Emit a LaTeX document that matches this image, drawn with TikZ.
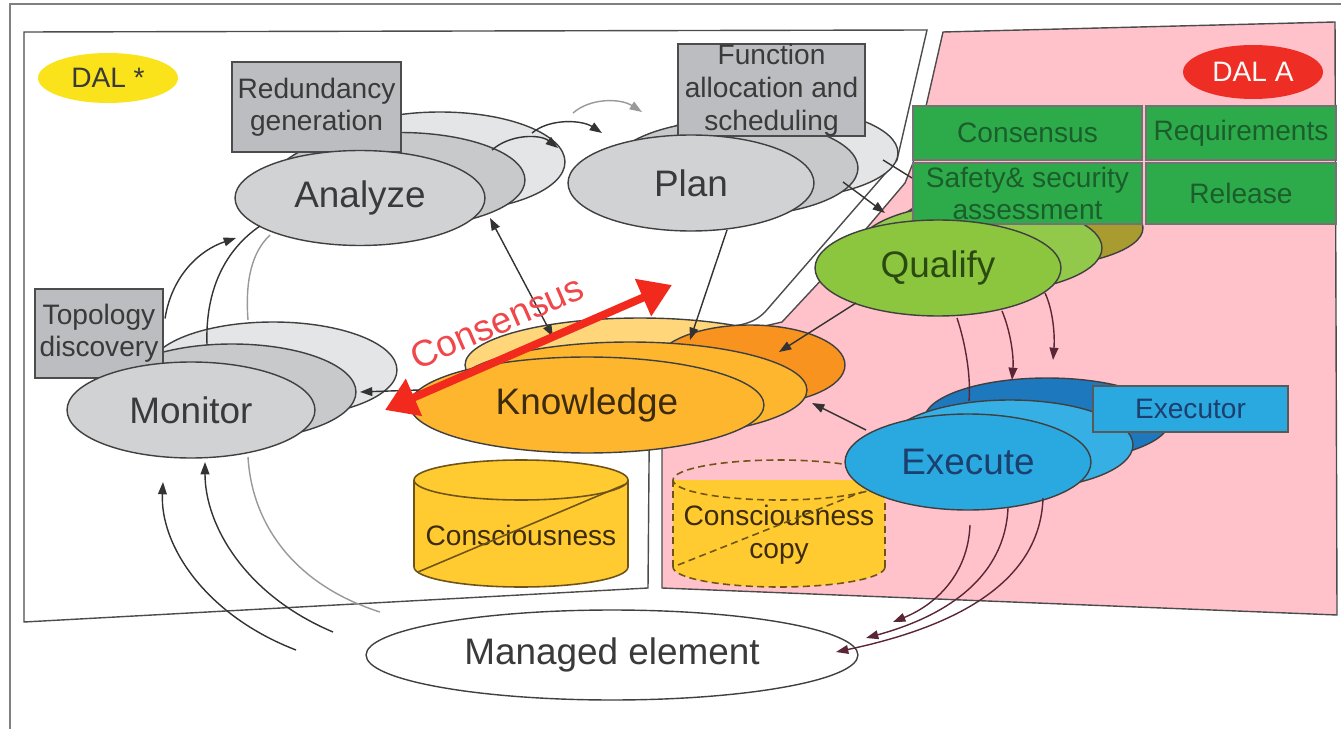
\documentclass[tikz,border=0pt]{standalone}
\usepackage{fontspec}
\setmainfont{Liberation Sans}
\usetikzlibrary{arrows.meta,shapes.geometric,calc}
\definecolor{txt}{HTML}{3A3A3A}
\definecolor{frame}{HTML}{808080}
\definecolor{boxgray}{HTML}{BCBDC0}
\definecolor{grayF}{HTML}{D1D2D4}
\definecolor{grayM}{HTML}{C8C9CB}
\definecolor{grayB}{HTML}{E4E5E6}
\definecolor{pinkbg}{HTML}{FFC2CB}
\definecolor{dalyellow}{HTML}{FAE31B}
\definecolor{dalred}{HTML}{EE2E24}
\definecolor{kF}{HTML}{FDB62D}
\definecolor{kB}{HTML}{FFD77A}
\definecolor{kO}{HTML}{F7931E}
\definecolor{cyl}{HTML}{FFCB30}
\definecolor{cylline}{HTML}{6E5418}
\definecolor{qF}{HTML}{8CC63F}
\definecolor{qM}{HTML}{93C94A}
\definecolor{qB}{HTML}{A89B2F}
\definecolor{grfill}{HTML}{2DAB4B}
\definecolor{grtxt}{HTML}{1B5E2B}
\definecolor{eF}{HTML}{2AA9E0}
\definecolor{eM}{HTML}{36B0E4}
\definecolor{eB}{HTML}{1E78BE}
\definecolor{etxt}{HTML}{1D3F6E}
\definecolor{qtxt}{HTML}{2B4A12}
\definecolor{ktxt}{HTML}{3D2B0E}
\definecolor{consred}{HTML}{F22A1E}
\definecolor{constxt}{HTML}{F0474B}
\definecolor{qarr}{HTML}{5A2635}
\begin{document}
\begin{tikzpicture}[x=0.02cm,y=-0.02cm,
  lay/.style={ellipse, draw=black!75, line width=0.8pt, inner sep=0pt},
  big/.style={font=\fontsize{21}{25}\selectfont},
  gbox/.style={rectangle, draw=black!70, fill=boxgray, line width=0.8pt, inner sep=0pt, align=center, text=txt, font=\fontsize{16}{18}\selectfont},
  grbox/.style={rectangle, draw=black!55, fill=grfill, line width=0.8pt, inner sep=0pt, align=center, text=grtxt, font=\fontsize{16}{18}\selectfont},
  conn/.style={draw=black!80, line width=0.8pt},
  arr/.style={-{Triangle[length=7pt,width=5pt]}},
  lightconn/.style={draw=black!40, line width=0.8pt},
  cylstyle/.style={draw=cylline, line width=0.9pt},
  cyldash/.style={draw=cylline, line width=0.9pt, dash pattern=on 4pt off 2.5pt}
]
\useasboundingbox (0,0) rectangle (1341,729);
% outer frame
\draw[draw=frame, line width=1pt] (10,745) -- (10,4) -- (1350,4);
% left region
\draw[fill=white, draw=black!70, line width=0.8pt] (24,32) -- (927,30) -- (897,160) -- (765,312) .. controls (755,322) and (745,325) .. (725,327) -- (650,345) -- (648,588) -- (24,622) -- cycle;
% pink region
\draw[fill=pinkbg, draw=black!70, line width=0.8pt] (943,32) -- (1335,22) -- (1337,615) -- (662,588) -- (662,350) -- (782,322) -- (838,262) -- (905,183) -- (913,163) -- cycle;
% DAL labels
\node[ellipse, fill=dalyellow, minimum width=2.8cm, minimum height=1cm, inner sep=0pt, font=\fontsize{16}{18}\selectfont, text=txt] (dals) at (108,78) {DAL *};
\node[ellipse, fill=dalred, minimum width=2.8cm, minimum height=1.08cm, inner sep=0pt, font=\fontsize{16}{18}\selectfont, text=white!92!pink] (dala) at (1253,72) {DAL A};
% Consciousness cylinder
\fill[cyl] (414,480) rectangle (628,567);
\fill[cyl] (521,567) ellipse [x radius=107, y radius=20];
\begin{scope}
\clip (400,567) rectangle (640,600);
\draw[cylstyle] (521,567) ellipse [x radius=107, y radius=20];
\end{scope}
\draw[cylstyle] (414,480) -- (414,567) (628,480) -- (628,567);
\draw[cylstyle, fill=cyl] (521,480) ellipse [x radius=107, y radius=20];
\node[font=\fontsize{16}{18}\selectfont, text=ktxt] (cons) at (521,535) {Consciousness};
\draw[cylstyle] ($(cons.center)+(-103,37)$) -- ($(cons.center)+(105,-51)$);
% Consciousness copy cylinder
\fill[cyl] (673,480) rectangle (885,567);
\fill[cyl] (779,567) ellipse [x radius=106, y radius=20];
\begin{scope}
\clip (660,567) rectangle (900,600);
\draw[cyldash] (779,567) ellipse [x radius=106, y radius=20];
\end{scope}
\draw[cyldash] (673,480) -- (673,567) (885,480) -- (885,567);
\draw[cyldash] (779,480) ellipse [x radius=106, y radius=20];
\node[font=\fontsize{16}{19}\selectfont, text=ktxt, align=center] (copy) at (779,535) {Consciousness\\copy};
\draw[cyldash] ($(copy.center)+(-101,30)$) -- ($(copy.center)+(83,-43)$);
% Monitor stack
\node[lay, fill=grayB, minimum width=4.96cm, minimum height=1.92cm] (monB) at (273,370) {};
\node[lay, fill=grayM, minimum width=4.96cm, minimum height=1.92cm] (monM) at (232,392) {};
\node[gbox, minimum width=2.56cm, minimum height=1.78cm] (topo) at (99,333.5) {Topology\\discovery};
\node[lay, fill=grayF, minimum width=4.96cm, minimum height=1.92cm, big, text=txt] (mon) at (191,410) {Monitor};
% Analyze stack
\node[lay, fill=grayB, minimum width=5cm, minimum height=2cm] (anaB) at (440,162) {};
\node[lay, fill=grayM, minimum width=5cm, minimum height=1.9cm] (anaM) at (400,180) {};
\node[gbox, minimum width=3.38cm, minimum height=1.8cm] (red) at (316.5,107) {Redundancy\\generation};
\node[lay, fill=grayF, minimum width=5cm, minimum height=1.9cm, big, text=txt] (ana) at (360,198) {Analyze};
% Plan stack
\node[lay, fill=grayB, minimum width=4.92cm, minimum height=1.84cm] (planB) at (775,153) {};
\node[lay, fill=grayM, minimum width=4.92cm, minimum height=1.92cm] (planM) at (735,168) {};
\node[gbox, minimum width=3.74cm, minimum height=1.8cm, font=\fontsize{16}{18.7}\selectfont] (func) at (771.5,90) {Function\\allocation and\\scheduling};
\node[lay, fill=grayF, minimum width=4.92cm, minimum height=1.92cm, big, text=txt] (plan) at (691,183) {Plan};
% Knowledge stack
\node[lay, fill=kB, minimum width=7cm, minimum height=1.88cm] (knowB) at (640,365) {};
\node[lay, fill=kO, minimum width=3.8cm, minimum height=1.6cm] (knowO) at (750,365) {};
\node[lay, fill=kF, minimum width=7.08cm, minimum height=1.92cm] (knowM) at (630,390) {};
\node[lay, fill=kF, minimum width=7.08cm, minimum height=1.92cm, big, text=ktxt] (know) at (587,405) {Knowledge};
% Qualify stack
\node[lay, fill=qB, minimum width=4.92cm, minimum height=1.6cm] (qualB) at (1020,228) {};
\node[lay, fill=qM, minimum width=4.88cm, minimum height=1.8cm] (qualM) at (980,248) {};
\node[grbox, minimum width=4.58cm, minimum height=1.08cm] (gcons) at (1027.5,133) {Consensus};
\node[grbox, minimum width=3.8cm, minimum height=1.08cm] (greq) at (1241,133) {Requirements};
\node[grbox, minimum width=4.58cm, minimum height=1.22cm, font=\fontsize{16}{18.5}\selectfont] (gsafe) at (1027.5,193.5) {Safety\& security\\assessment};
\node[grbox, minimum width=3.8cm, minimum height=1.22cm] (grel) at (1241,193.5) {Release};
% Plan -> Qualify (behind front ellipse)
\draw[conn, arr] ($(planM.center)+(108,14)$) -- ($(qualB.center)+(-135,-15)$);
\draw[conn] ($(planB.center)+(108,7)$) -- ($(qualB.center)+(-108,-50)$);
\node[lay, fill=qF, minimum width=4.92cm, minimum height=1.92cm, big, text=qtxt] (qual) at (938,268) {Qualify};
% Execute stack
\node[lay, fill=eB, minimum width=4.92cm, minimum height=1.68cm] (exeB) at (1047,420) {};
\node[lay, fill=eM, minimum width=4.92cm, minimum height=1.8cm] (exeM) at (1010,445) {};
\node[rectangle, draw=black!65, fill=eF, line width=0.8pt, inner sep=0pt, minimum width=3.9cm, minimum height=0.92cm, text=etxt, font=\fontsize{16}{18}\selectfont] (exor) at (1190.5,409) {Executor};
\node[lay, fill=eF, minimum width=4.92cm, minimum height=1.92cm, big, text=etxt] (exe) at (968,462) {Execute};
% Managed element
\node[lay, fill=white, minimum width=9.84cm, minimum height=1.8cm, big, text=txt] (me) at (612,655) {Managed element};
% ---- connectors ----
% Monitor -> Analyze
\draw[conn, arr] ($(topo.center)+(66,-15)$) .. controls (172,275) and (200,250) .. ($(ana.center)+(-124,40)$);
\draw[conn] ($(monB.center)+(-66,-25)$) .. controls (205,290) and (225,250) .. ($(ana.center)+(-100,28)$);
\draw[lightconn] ($(monB.center)+(-25,-50)$) .. controls (245,280) and (252,252) .. ($(ana.center)+(-90,37)$);
% Managed element -> Monitor
\draw[conn, arr] ($(me.center)+(-316,-5)$) .. controls (205,615) and (160,545) .. ($(mon.center)+(-28,72)$);
\draw[conn, arr] ($(me.center)+(-279,-23)$) .. controls (245,595) and (205,525) .. ($(mon.center)+(14,52)$);
\draw[lightconn] ($(me.center)+(-232,-43)$) .. controls (295,585) and (252,525) .. ($(mon.center)+(57,47)$);
% Analyze -> Plan
\draw[conn, arr] ($(anaM.center)+(92,-30)$) .. controls (510,134) and (540,134) .. ($(plan.center)+(-133,-35)$);
\draw[conn, arr] ($(anaB.center)+(92,-29)$) .. controls (550,118) and (582,120) .. ($(planM.center)+(-133,-35)$);
\draw[lightconn, arr] ($(anaB.center)+(133,-49)$) .. controls (590,98) and (620,98) .. ($(planB.center)+(-133,-41)$);
% Analyze <-> Knowledge
\draw[conn, {Triangle[length=7pt,width=5pt]}-{Triangle[length=7pt,width=5pt]}] ($(ana.center)+(130,20)$) -- ($(knowB.center)+(-87,-28)$);
% Plan -> Knowledge
\draw[conn, arr] ($(plan.center)+(36,47)$) -- ($(knowB.center)+(50,-25)$);
% Qualify -> Knowledge
\draw[conn, arr] ($(qual.center)+(-82,35)$) -- ($(knowO.center)+(29,-13)$);
% Qualify -> Execute
\draw[draw=qarr, line width=0.8pt] ($(qual.center)+(19,50)$) .. controls (966,345) and (971,378) .. ($(exeB.center)+(-78,-19)$);
\draw[draw=qarr, line width=0.8pt, arr] ($(qual.center)+(64,43)$) .. controls (1010,330) and (1014,355) .. ($(exeB.center)+(-35,-40)$);
\draw[draw=qarr, line width=0.8pt, arr] ($(qualM.center)+(65,45)$) .. controls (1053,310) and (1055,335) .. ($(exeB.center)+(6,-60)$);
% Execute -> Knowledge
\draw[conn, arr] ($(exe.center)+(-102,-32)$) -- ($(knowM.center)+(182,13)$);
% Execute -> Managed element
\draw[draw=qarr, line width=0.8pt, arr] ($(exe.center)+(2,63)$) .. controls (968,575) and (935,605) .. ($(me.center)+(281,-33)$);
\draw[draw=qarr, line width=0.8pt, arr] ($(exe.center)+(40,46)$) .. controls (1005,575) and (950,615) .. ($(me.center)+(254,-17)$);
\draw[draw=qarr, line width=0.8pt, arr] ($(exe.center)+(75,36)$) .. controls (1040,590) and (940,630) .. ($(me.center)+(224,-3)$);
% Knowledge -> Monitor
\draw[conn, arr] ($(know.center)+(-168,-15)$) -- ($(monM.center)+(128,0)$);
% Consensus arrow
\draw[draw=consred, line width=4.5pt, {Triangle[length=18pt,width=22pt]}-{Triangle[length=18pt,width=22pt]}] ($(know.center)+(-202,5)$) -- ($(know.center)+(85,-120)$);
\node[rotate=23.5, inner sep=0pt, text=constxt, font=\fontsize{21}{25}\selectfont] (consl) at (497,322) {Consensus};
\end{tikzpicture}
\end{document}
